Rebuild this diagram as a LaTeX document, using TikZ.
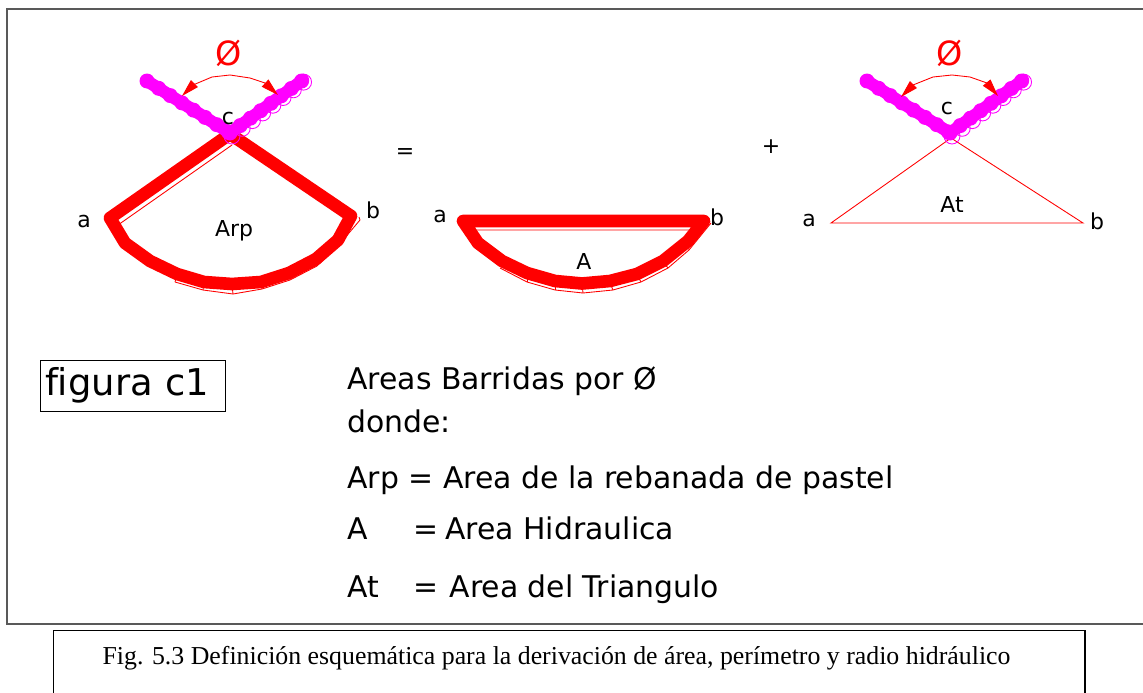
\documentclass[tikz,border=0pt]{standalone}
\usepackage{fontspec}
\setmainfont[Ligatures=NoCommon]{DejaVu Sans}
\newfontfamily\captionfont{Liberation Serif}
\usetikzlibrary{arrows.meta}
\newcommand\unit{0.02}
\definecolor{fanred}{RGB}{255,0,0}
\definecolor{armpink}{RGB}{255,0,255}
\tikzset{fan/.style={draw=fanred,line width=7.2pt,line join=round,line cap=round},
  thinline/.style={draw=fanred,line width=0.5pt},
  arm/.style={draw=armpink,line width=7pt,line join=round,line cap=round},
  angle/.style={draw=fanred,line width=0.5pt,{Triangle[length=10pt,width=5.5pt]}-{Triangle[length=10pt,width=5.5pt]}},
  lbl/.style={font=\fontsize{12.5}{15}\selectfont,inner sep=0pt},
  phi/.style={font=\fontsize{19}{22}\selectfont,text=fanred,inner sep=0pt},
  legend/.style={font=\fontsize{17}{20}\selectfont,anchor=base west,inner sep=0pt}}
\begin{document}
\begin{tikzpicture}[x=\unit cm,y=-\unit cm]
\useasboundingbox (0,0) rectangle (1143,693);
% frames
\coordinate (frameNW) at (7,9);
\coordinate (frameSE) at (1150,624);
\draw[line width=0.8pt,black!65] (1150,9) -- (frameNW) -- (7,624) -- (frameSE);
\coordinate (capNW) at (53.5,630.5);
\coordinate (capSE) at (1085,700);
\draw[line width=1.1pt] (53.5,700) -- (capNW) -- (1085,630.5) -- (capSE);

% slice
\draw[thinline] (118,225) -- (232,145) (359,217) -- (360,220) -- (338,246) -- (317,266) -- (290,280) -- (262,289) -- (233,294) -- (203,290) -- (175,282);
\foreach \ix/\iy/\ox/\oy in {338/241/338/246,316/260/317/266,289/274/290/280,261/283/262/289,232/285/233/294,204/283/203/290,177/275/175/282}
  \draw[thinline] (\ix,\iy) -- (\ox,\oy);
\draw[fan] (230,134) -- (110,218) -- (125,243) -- (150,261) -- (177,274) -- (204,282) -- (232,284) -- (261,282) -- (289,273) -- (316,259) -- (338,240) -- (351,216) -- cycle;
% area
\draw[thinline] (475,230) -- (690,230) (711,223) -- (689,250) -- (668,268) -- (641,282) -- (613,290) -- (583,293) -- (555,290) -- (527,282) -- (500,268);
\foreach \ix/\iy/\ox/\oy in {688/242/689/250,663/262/668/268,637/275/641/282,610/283/613/290,582/284/583/293,555/282/555/290,527/274/527/282}
  \draw[thinline] (\ix,\iy) -- (\ox,\oy);
\draw[fan] (463,221) -- (478,243) -- (502,261) -- (527,273) -- (555,281) -- (582,283.5) -- (610,281) -- (637,274) -- (663,261) -- (688,241) -- (704,221) -- cycle;
% triangle
\coordinate (triA) at (831,223);
\coordinate (triB) at (1083,223);
\coordinate (triC) at (951,138);
\draw[thinline] (triA) -- (triB) -- (triC) -- cycle;

% arms
\foreach \ox in {0,720}{
  \foreach \t in {0,0.14,...,1.01}
    \draw[draw=armpink,line width=0.5pt] ({232+\ox+73*\t},{136-55*\t}) circle (8);
  \draw[arm] ({147+\ox},81) -- ({230+\ox},133) -- ({303+\ox},80);
  \foreach \t in {0,0.14,...,1.01}{
    \fill[armpink] ({147+\ox+83*\t},{81+52*\t}) circle (7.5);
    \fill[armpink] ({230+\ox+73*\t},{133-53*\t}) circle (7.5);
  }
}
\draw[angle] (182,96) -- (193,85) -- (212,77) -- (230,75) -- (250,78) -- (265,83) -- (278,95);
\draw[angle] (901,97) -- (913,85) -- (933,77) -- (952,75) -- (970,77) -- (987,83) -- (998,96);

% labels
\node[phi] (phiL) at (229,53) {Ø};
\node[phi] (phiR) at (950,53) {Ø};
\node[lbl] (cL) at (228,119) {c};
\node[lbl] (aL) at (84,222) {a};
\node[lbl] (bL) at (373,210) {b};
\node[lbl] (arp) at (234,231) {Arp};
\node[lbl] (eq) at (405,154) {=};
\node[lbl] (aM) at (440,217) {a};
\node[lbl] (bM) at (717,217) {b};
\node[lbl] (am) at (584,261) {A};
\node[lbl] (plus) at (771,147) {+};
\node[lbl] (cR) at (947,109) {c};
\node[lbl] (aR) at (809,221) {a};
\node[lbl] (bR) at (1097,221) {b};
\node[lbl] (at) at (952,204) {At};

\node[draw,line width=0.5pt,font=\fontsize{21}{24}\selectfont,minimum width=185*\unit cm,minimum height=51*\unit cm,inner sep=0pt,text width=175*\unit cm,align=left] (figbox) at (132.5,385.5) {figura c1};

\node[legend] (l1) at (347,389) {Areas Barridas por Ø};
\node[legend] (l2) at (347,432) {donde:};
\node[legend] (l3) at (347,488) {Arp = Area de la rebanada de pastel};
\node[legend] (l4) at (347,539) {A};
\node[legend] (l4b) at (413,539) {=\kern-1.5pt\ Area Hidraulica};
\node[legend] (l5) at (347,597) {At};
\node[legend] (l5b) at (413,597) {=\kern1pt\ Area del Triangulo};

\node[font=\captionfont\fontsize{14.7}{17}\selectfont,inner sep=0pt] (cap) at (556.5,658) {Fig. 5.3 Definición esquemática para la derivación de área, perímetro y radio hidráulico};
\end{tikzpicture}
\end{document}
